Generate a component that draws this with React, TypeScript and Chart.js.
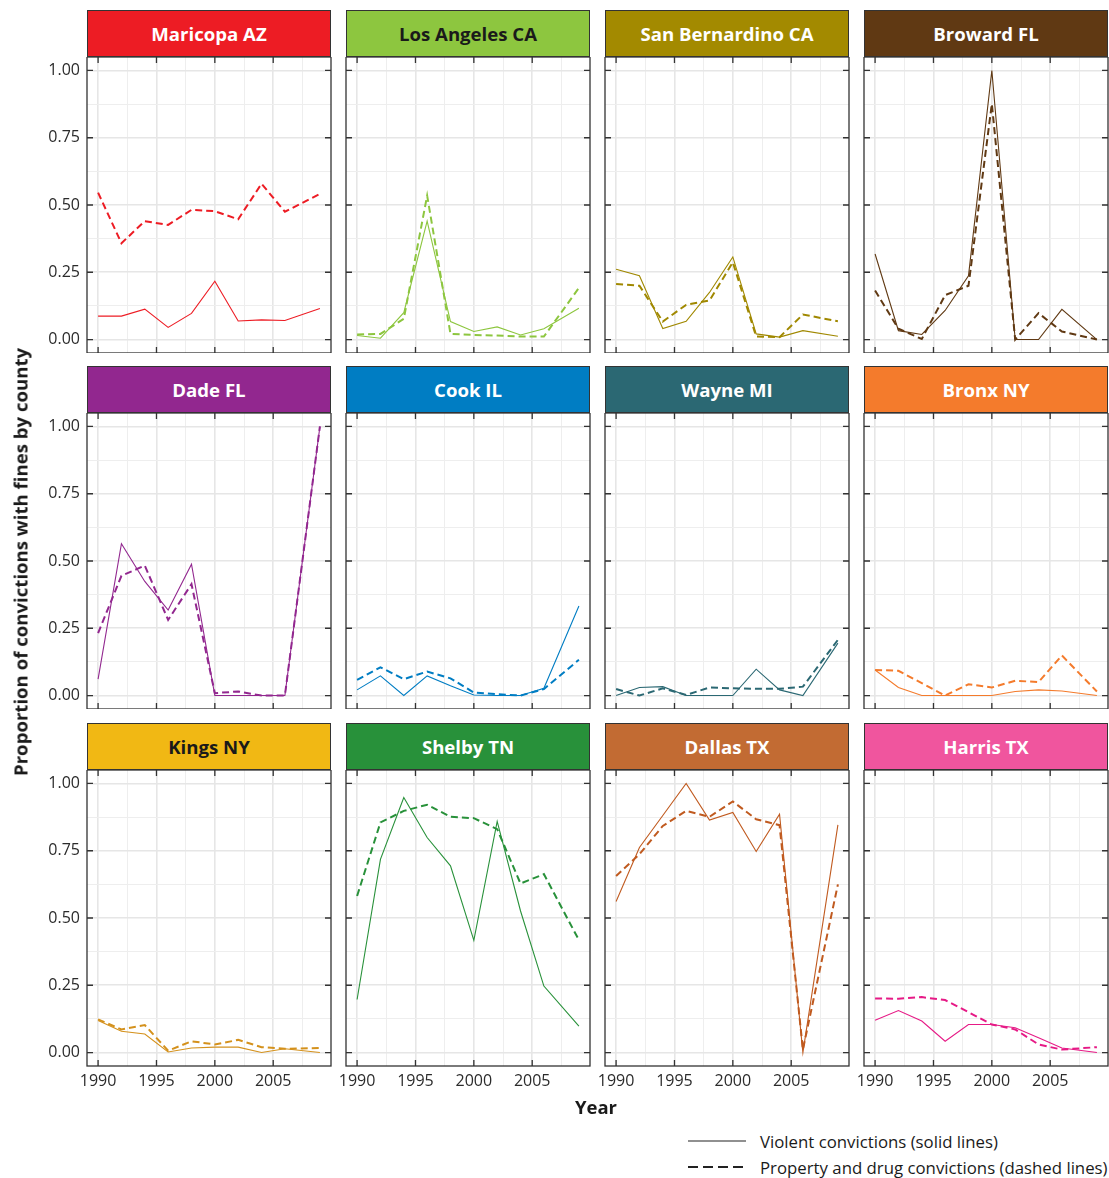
import React, { useEffect, useRef } from 'react';
import { Chart, registerables } from 'chart.js';

Chart.register(...registerables);

// ---------- data ----------
const years = [1990, 1992, 1994, 1996, 1998, 2000, 2002, 2004, 2006, 2009];

const countyNames = [
  'Maricopa AZ', 'Los Angeles CA', 'San Bernardino CA', 'Broward FL',
  'Dade FL', 'Cook IL', 'Wayne MI', 'Bronx NY',
  'Kings NY', 'Shelby TN', 'Dallas TX', 'Harris TX',
];

const maricopaViolent = [0.087, 0.087, 0.113, 0.045, 0.097, 0.217, 0.069, 0.073, 0.071, 0.115];
const maricopaProperty = [0.546, 0.358, 0.44, 0.426, 0.482, 0.477, 0.447, 0.579, 0.475, 0.541];
const losAngelesViolent = [0.015, 0.005, 0.1, 0.44, 0.067, 0.03, 0.047, 0.017, 0.04, 0.116];
const losAngelesProperty = [0.019, 0.021, 0.077, 0.535, 0.021, 0.017, 0.015, 0.011, 0.011, 0.192];
const sanBernardinoViolent = [0.261, 0.237, 0.041, 0.068, 0.175, 0.307, 0.021, 0.009, 0.033, 0.012];
const sanBernardinoProperty = [0.206, 0.2, 0.067, 0.129, 0.145, 0.287, 0.011, 0.009, 0.093, 0.068];
const browardViolent = [0.318, 0.033, 0.019, 0.108, 0.237, 1.0, 0, 0, 0.112, 0];
const browardProperty = [0.182, 0.04, 0.002, 0.165, 0.2, 0.876, 0, 0.098, 0.03, 0];
const dadeViolent = [0.061, 0.564, 0.424, 0.318, 0.488, 0, 0, 0, 0, 1.0];
const dadeProperty = [0.232, 0.445, 0.483, 0.281, 0.414, 0.009, 0.015, 0, 0, 1.0];
const cookViolent = [0.021, 0.073, 0, 0.073, 0.036, 0.002, 0, 0, 0.027, 0.333];
const cookProperty = [0.058, 0.105, 0.061, 0.089, 0.064, 0.011, 0.005, 0, 0.024, 0.133];
const wayneViolent = [0, 0.03, 0.033, 0, 0, 0, 0.098, 0.021, 0, 0.195];
const wayneProperty = [0.024, 0, 0.027, 0.002, 0.03, 0.027, 0.025, 0.025, 0.033, 0.207];
const bronxViolent = [0.095, 0.03, 0, 0, 0, 0, 0.015, 0.021, 0.017, 0];
const bronxProperty = [0.095, 0.092, 0.046, 0, 0.042, 0.03, 0.055, 0.05, 0.149, 0.015];
const kingsViolent = [0.119, 0.079, 0.069, 0.002, 0.017, 0.02, 0.02, 0, 0.014, 0];
const kingsProperty = [0.123, 0.086, 0.102, 0.007, 0.042, 0.03, 0.047, 0.02, 0.014, 0.017];
const shelbyViolent = [0.197, 0.718, 0.948, 0.799, 0.694, 0.417, 0.859, 0.526, 0.247, 0.098];
const shelbyProperty = [0.582, 0.855, 0.898, 0.921, 0.876, 0.871, 0.83, 0.628, 0.663, 0.418];
const dallasViolent = [0.561, 0.762, 0.881, 1.0, 0.864, 0.892, 0.747, 0.886, 0, 0.846];
const dallasProperty = [0.656, 0.737, 0.842, 0.898, 0.876, 0.933, 0.867, 0.845, 0.011, 0.625];
const harrisViolent = [0.12, 0.156, 0.117, 0.042, 0.104, 0.104, 0.092, 0.055, 0.017, 0];
const harrisProperty = [0.201, 0.2, 0.206, 0.195, 0.15, 0.104, 0.086, 0.03, 0.011, 0.02];

const violentSeries = [
  maricopaViolent, losAngelesViolent, sanBernardinoViolent, browardViolent,
  dadeViolent, cookViolent, wayneViolent, bronxViolent,
  kingsViolent, shelbyViolent, dallasViolent, harrisViolent,
];
const propertySeries = [
  maricopaProperty, losAngelesProperty, sanBernardinoProperty, browardProperty,
  dadeProperty, cookProperty, wayneProperty, bronxProperty,
  kingsProperty, shelbyProperty, dallasProperty, harrisProperty,
];

const xMajorTicks = [1990, 1995, 2000, 2005];
const xMinorTicks = [1992.5, 1997.5, 2002.5, 2007.5];
const xTickLabels = ['1990', '1995', '2000', '2005'];
const yMajorTicks = [0, 0.25, 0.5, 0.75, 1];
const yMinorTicks = [0.125, 0.375, 0.625, 0.875];
const yTickLabels = ['0.00', '0.25', '0.50', '0.75', '1.00'];

const yTitle = 'Proportion of convictions with fines by county';
const xTitle = 'Year';
const legendLabels = ['Violent convictions (solid lines)', 'Property and drug convictions (dashed lines)'];

// ---------- styles ----------
const stripColors = [
  '#ED1C24', '#8DC63F', '#A38A00', '#603913',
  '#92278F', '#007DC3', '#2B6873', '#F47B2C',
  '#F1B814', '#28913A', '#C26B33', '#F0559E',
];
const lineColors = [
  '#ED1C24', '#8DC63F', '#A08800', '#603913',
  '#92278F', '#007DC3', '#2B6873', '#F47B2C',
  '#D4911C', '#28913A', '#C05A1F', '#E61A86',
];
const stripTextColors = [
  '#ffffff', '#1a1a1a', '#ffffff', '#ffffff',
  '#ffffff', '#ffffff', '#ffffff', '#ffffff',
  '#1a1a1a', '#ffffff', '#ffffff', '#ffffff',
];

const FONT = "'Open Sans', 'Noto Sans', sans-serif";
const plotLefts = [87, 346, 605, 864];
const plotTops = [57, 413, 770];
const PW = 244;
const PH = 296;
const STRIP_H = 47;
const Y_AXIS_W = 87;
const X_AXIS_H = 40;
const SIDE_PAD = 20;

Chart.defaults.font.family = FONT;

const frameTicks = {
  id: 'frameTicks',
  afterDraw(chart: any) {
    const { ctx, chartArea: a, scales } = chart;
    ctx.save();
    ctx.strokeStyle = '#333333';
    ctx.lineWidth = 1.3;
    ctx.strokeRect(a.left, a.top, a.right - a.left, a.bottom - a.top);
    const L = 6;
    ctx.beginPath();
    xMajorTicks.forEach((v) => {
      const x = scales.x.getPixelForValue(v);
      ctx.moveTo(x, a.top);
      ctx.lineTo(x, a.top + L);
      ctx.moveTo(x, a.bottom);
      ctx.lineTo(x, a.bottom - L);
    });
    yMajorTicks.forEach((v) => {
      const y = scales.y.getPixelForValue(v);
      ctx.moveTo(a.left, y);
      ctx.lineTo(a.left + L, y);
      ctx.moveTo(a.right, y);
      ctx.lineTo(a.right - L, y);
    });
    ctx.stroke();
    ctx.restore();
  },
};

function geometry(i: number) {
  const col = i % 4;
  const row = Math.floor(i / 4);
  const showY = col === 0;
  const showX = row === 2;
  const padL = showY ? 0 : SIDE_PAD;
  const padR = SIDE_PAD;
  const yW = showY ? Y_AXIS_W : 0;
  const xH = showX ? X_AXIS_H : 0;
  const left = plotLefts[col] - yW - padL;
  const top = plotTops[row];
  const width = PW + yW + padL + padR;
  const height = PH + xH;
  return { col, row, showY, showX, padL, padR, yW, xH, left, top, width, height };
}

const xAllTicks = [...xMajorTicks, ...xMinorTicks].sort((a, b) => a - b);
const yAllTicks = [...yMajorTicks, ...yMinorTicks].sort((a, b) => a - b);

export default function App() {
  const refs = useRef<(HTMLCanvasElement | null)[]>([]);

  useEffect(() => {
    const charts: Chart[] = [];
    countyNames.forEach((_, i) => {
      const canvas = refs.current[i];
      if (!canvas) return;
      const g = geometry(i);
      const color = lineColors[i];
      const chart = new Chart(canvas, {
        type: 'line',
        data: {
          datasets: [
            {
              label: legendLabels[1],
              data: years.map((x, k) => ({ x, y: propertySeries[i][k] })),
              borderColor: color,
              borderWidth: 2,
              borderDash: [7, 4],
              pointRadius: 0,
              fill: false,
              tension: 0,
            },
            {
              label: legendLabels[0],
              data: years.map((x, k) => ({ x, y: violentSeries[i][k] })),
              borderColor: color,
              borderWidth: 1.1,
              pointRadius: 0,
              fill: false,
              tension: 0,
            },
          ],
        },
        options: {
          responsive: false,
          animation: false,
          devicePixelRatio: 1,
          layout: { padding: { left: g.padL, right: g.padR, top: 0, bottom: 0 } },
          plugins: { legend: { display: false }, tooltip: { enabled: false } },
          scales: {
            x: {
              type: 'linear',
              min: 1989.05,
              max: 2009.95,
              afterBuildTicks: (s: any) => {
                s.ticks = xAllTicks.map((v) => ({ value: v }));
              },
              afterFit: (s: any) => {
                s.height = g.xH;
                s.paddingLeft = 0;
                s.paddingRight = 0;
              },
              ticks: {
                display: g.showX,
                autoSkip: false,
                maxRotation: 0,
                minRotation: 0,
                padding: 6,
                color: '#2b2b2b',
                font: { family: FONT, size: 16 },
                callback: (v: any) => {
                  const k = xMajorTicks.indexOf(Number(v));
                  return k >= 0 ? xTickLabels[k] : '';
                },
              },
              grid: {
                drawTicks: false,
                color: (c: any) => (xMajorTicks.includes(c.tick?.value) ? '#e6e6e6' : '#eeeeee'),
                lineWidth: (c: any) => (xMajorTicks.includes(c.tick?.value) ? 1.6 : 1),
              },
              border: { display: false },
            },
            y: {
              type: 'linear',
              min: -0.05,
              max: 1.05,
              afterBuildTicks: (s: any) => {
                s.ticks = yAllTicks.map((v) => ({ value: v }));
              },
              afterFit: (s: any) => {
                s.width = g.yW;
                s.paddingTop = 0;
                s.paddingBottom = 0;
              },
              ticks: {
                display: g.showY,
                autoSkip: false,
                padding: 7,
                color: '#2b2b2b',
                font: { family: FONT, size: 16 },
                callback: (v: any) => {
                  const k = yMajorTicks.indexOf(Number(v));
                  return k >= 0 ? yTickLabels[k] : '';
                },
              },
              grid: {
                drawTicks: false,
                color: (c: any) => (yMajorTicks.includes(c.tick?.value) ? '#e6e6e6' : '#eeeeee'),
                lineWidth: (c: any) => (yMajorTicks.includes(c.tick?.value) ? 1.6 : 1),
              },
              border: { display: false },
            },
          },
        },
        plugins: [frameTicks],
      });
      charts.push(chart);
    });
    return () => charts.forEach((c) => c.destroy());
  }, []);

  return (
    <div style={{ position: 'absolute', left: 0, top: 0, width: 1109, height: 1178, background: '#fff', fontFamily: FONT }}>
      {countyNames.map((name, i) => {
        const g = geometry(i);
        return (
          <React.Fragment key={name}>
            <div
              style={{
                position: 'absolute',
                left: plotLefts[g.col],
                top: plotTops[g.row] - STRIP_H,
                width: PW,
                height: STRIP_H,
                boxSizing: 'border-box',
                border: '1.3px solid #333',
                background: stripColors[i],
                color: stripTextColors[i],
                display: 'flex',
                alignItems: 'center',
                justifyContent: 'center',
                fontWeight: 700,
                fontSize: 18.6,
                whiteSpace: 'nowrap',
              }}
            >
              {name}
            </div>
            <canvas
              ref={(el) => { refs.current[i] = el; }}
              width={g.width}
              height={g.height}
              style={{ position: 'absolute', left: g.left, top: g.top, width: g.width, height: g.height }}
            />
          </React.Fragment>
        );
      })}
      <div
        style={{
          position: 'absolute',
          left: 20,
          top: 562,
          transform: 'translate(-50%, -50%) rotate(-90deg)',
          whiteSpace: 'nowrap',
          fontWeight: 700,
          fontSize: 18.6,
          color: '#1a1a1a',
        }}
      >
        {yTitle}
      </div>
      <div
        style={{
          position: 'absolute',
          left: 596,
          top: 1106,
          transform: 'translate(-50%, -50%)',
          fontWeight: 700,
          fontSize: 18.5,
          color: '#1a1a1a',
        }}
      >
        {xTitle}
      </div>
      <svg style={{ position: 'absolute', left: 680, top: 1128 }} width={80} height={50}>
        <line x1={8} y1={13} x2={66} y2={13} stroke="#222" strokeWidth={1.2} />
        <line x1={8} y1={39} x2={66} y2={39} stroke="#222" strokeWidth={2} strokeDasharray="10 5" />
      </svg>
      <div style={{ position: 'absolute', left: 760, top: 1141, transform: 'translateY(-50%)', fontSize: 16.8, color: '#1a1a1a', whiteSpace: 'nowrap' }}>
        {legendLabels[0]}
      </div>
      <div style={{ position: 'absolute', left: 760, top: 1167, transform: 'translateY(-50%)', fontSize: 16.8, color: '#1a1a1a', whiteSpace: 'nowrap' }}>
        {legendLabels[1]}
      </div>
    </div>
  );
}
